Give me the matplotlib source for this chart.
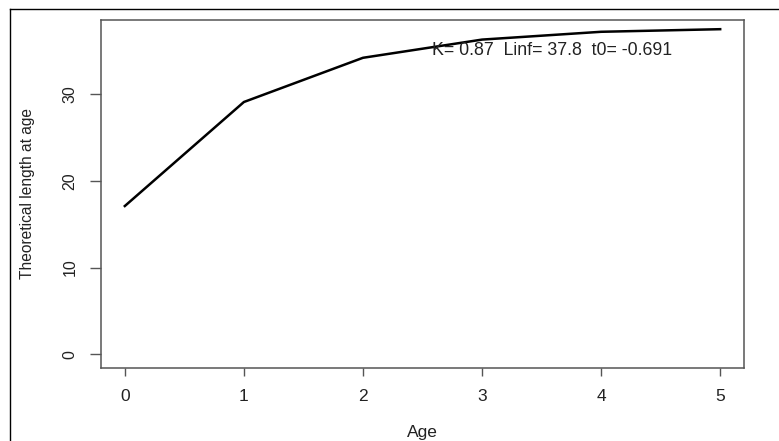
import matplotlib
matplotlib.use("Agg")
import matplotlib.pyplot as plt
from matplotlib.lines import Line2D

ages = [0, 1, 2, 3, 4, 5]
lengths = [17.1, 29.1, 34.2, 36.3, 37.2, 37.5]
x_ticks = [0, 1, 2, 3, 4, 5]
y_ticks = [0, 10, 20, 30]
annotation = "K= 0.87  Linf= 37.8  t0= -0.691"
x_label = "Age"
y_label = "Theoretical length at age"

plt.rcParams['font.family'] = ['Liberation Sans', 'DejaVu Sans']

W, H = 779, 441
fig = plt.figure(figsize=(W / 100, H / 100), dpi=100)
ax = fig.add_axes([101 / W, 1 - 367.7 / H, (744 - 101) / W, (367.7 - 20) / H])

ax.plot(ages, lengths, color='black', lw=1.8, solid_joinstyle='round')
ax.set_xlim(-0.2, 5.2)
ax.set_ylim(-1.55, 38.56)

ax.set_xticks(x_ticks)
ax.set_yticks(y_ticks)
ax.tick_params(axis='x', length=6, width=1.0, color='#555555', pad=9, labelsize=12.5, labelcolor='#222222')
ax.tick_params(axis='y', length=8, width=1.0, color='#555555', pad=9, labelsize=11.5, labelcolor='#222222')
for lab in ax.get_yticklabels():
    lab.set_rotation(90)
    lab.set_va('center')
for s in ax.spines.values():
    s.set_color('#555555')
    s.set_linewidth(1.1)

ax.set_xlabel(x_label, fontsize=12.5, color='#222222', labelpad=15.5)
ax.set_ylabel(y_label, fontsize=11.2, color='#222222', labelpad=20)

ax.text(3.59, 34.52, annotation, ha='center', va='baseline', fontsize=12.8, color='#222222')

# screenshot frame on top and left
fig.add_artist(Line2D([10 / W, 10 / W], [0, 1 - 9 / H], transform=fig.transFigure, color='black', lw=1))
fig.add_artist(Line2D([10 / W, 1], [1 - 9 / H, 1 - 9 / H], transform=fig.transFigure, color='black', lw=1))

fig.savefig("out.png", dpi=100)
